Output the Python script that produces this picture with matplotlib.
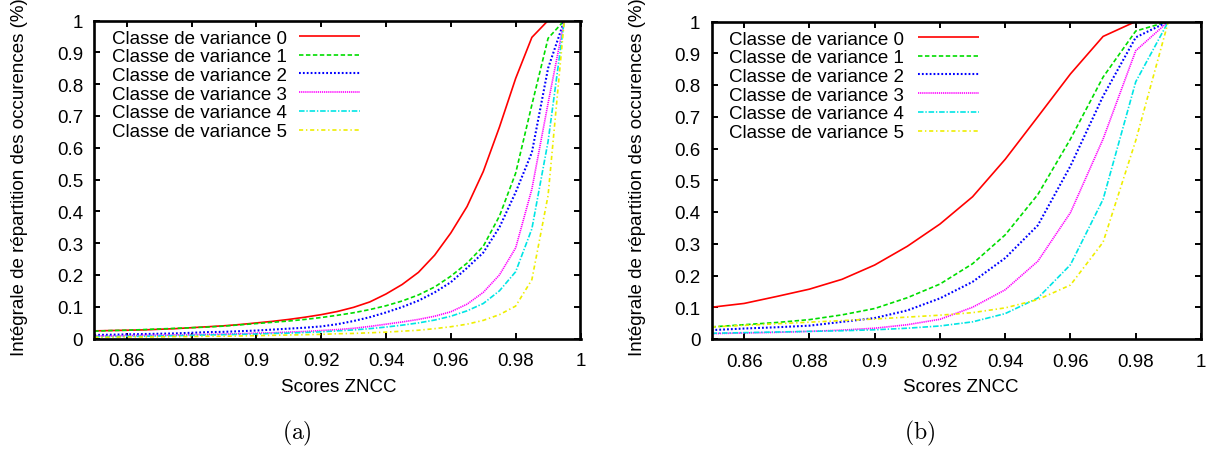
import matplotlib
matplotlib.use("Agg")
import matplotlib.pyplot as plt

plt.rcParams["font.family"] = ["Liberation Sans", "DejaVu Sans"]
plt.rcParams["lines.scale_dashes"] = False

# ---------------------------------------------------------------- data
class_labels = ["Classe de variance 0", "Classe de variance 1", "Classe de variance 2",
                "Classe de variance 3", "Classe de variance 4", "Classe de variance 5"]

x_label = "Scores ZNCC"
y_label = "Intégrale de répartition des occurences (%)"
panel_captions = ["(a)", "(b)"]

x_ticks = [0.86, 0.88, 0.90, 0.92, 0.94, 0.96, 0.98, 1.0]
x_tick_labels = ["0.86", "0.88", "0.9", "0.92", "0.94", "0.96", "0.98", "1"]
y_ticks = [0.0, 0.1, 0.2, 0.3, 0.4, 0.5, 0.6, 0.7, 0.8, 0.9, 1.0]
y_tick_labels = ["0", "0.1", "0.2", "0.3", "0.4", "0.5", "0.6", "0.7", "0.8", "0.9", "1"]

# panel (a): scores sampled every 0.005
zncc_a = [0.850, 0.855, 0.860, 0.865, 0.870, 0.875, 0.880, 0.885, 0.890, 0.895,
          0.900, 0.905, 0.910, 0.915, 0.920, 0.925, 0.930, 0.935, 0.940, 0.945,
          0.950, 0.955, 0.960, 0.965, 0.970, 0.975, 0.980, 0.985, 0.990, 0.995]
cdf_a_0 = [0.024, 0.025, 0.026, 0.027, 0.029, 0.031, 0.034, 0.037, 0.040, 0.044,
           0.049, 0.054, 0.060, 0.067, 0.075, 0.085, 0.098, 0.115, 0.140, 0.170,
           0.208, 0.262, 0.332, 0.415, 0.525, 0.665, 0.818, 0.947, 1.000, 1.000]
cdf_a_1 = [0.023, 0.025, 0.026, 0.028, 0.030, 0.032, 0.034, 0.036, 0.039, 0.043,
           0.047, 0.051, 0.055, 0.060, 0.066, 0.073, 0.081, 0.091, 0.103, 0.118,
           0.137, 0.162, 0.196, 0.237, 0.290, 0.385, 0.520, 0.735, 0.944, 1.000]
cdf_a_2 = [0.011, 0.012, 0.013, 0.014, 0.015, 0.016, 0.018, 0.020, 0.021, 0.023,
           0.025, 0.028, 0.031, 0.034, 0.038, 0.045, 0.055, 0.067, 0.082, 0.099,
           0.119, 0.145, 0.177, 0.222, 0.270, 0.350, 0.460, 0.585, 0.850, 1.000]
cdf_a_3 = [0.008, 0.008, 0.009, 0.010, 0.010, 0.011, 0.012, 0.013, 0.014, 0.015,
           0.017, 0.018, 0.020, 0.022, 0.025, 0.028, 0.032, 0.038, 0.045, 0.052,
           0.060, 0.070, 0.084, 0.108, 0.145, 0.200, 0.285, 0.470, 0.740, 1.000]
cdf_a_4 = [0.006, 0.006, 0.007, 0.007, 0.008, 0.009, 0.010, 0.011, 0.012, 0.013,
           0.014, 0.016, 0.017, 0.019, 0.021, 0.024, 0.027, 0.031, 0.036, 0.042,
           0.049, 0.058, 0.070, 0.087, 0.110, 0.150, 0.210, 0.345, 0.620, 1.000]
cdf_a_5 = [0.004, 0.004, 0.005, 0.005, 0.005, 0.006, 0.006, 0.007, 0.007, 0.008,
           0.009, 0.010, 0.011, 0.012, 0.013, 0.015, 0.016, 0.018, 0.020, 0.023,
           0.026, 0.031, 0.037, 0.045, 0.057, 0.075, 0.102, 0.185, 0.450, 1.000]

# panel (b): scores sampled every 0.01
zncc_b = [0.85, 0.86, 0.87, 0.88, 0.89, 0.90, 0.91, 0.92, 0.93, 0.94,
          0.95, 0.96, 0.97, 0.98, 0.99]
cdf_b_0 = [0.100, 0.112, 0.134, 0.157, 0.188, 0.233, 0.292, 0.362, 0.448, 0.566,
           0.700, 0.835, 0.953, 1.000, 1.000]
cdf_b_1 = [0.038, 0.045, 0.052, 0.061, 0.076, 0.096, 0.130, 0.173, 0.237, 0.328,
           0.455, 0.630, 0.825, 0.970, 1.000]
cdf_b_2 = [0.028, 0.033, 0.037, 0.042, 0.054, 0.066, 0.090, 0.128, 0.180, 0.255,
           0.358, 0.545, 0.765, 0.950, 1.000]
cdf_b_3 = [0.017, 0.019, 0.021, 0.024, 0.028, 0.034, 0.045, 0.062, 0.100, 0.155,
           0.245, 0.398, 0.630, 0.908, 1.000]
cdf_b_4 = [0.018, 0.020, 0.022, 0.024, 0.026, 0.029, 0.034, 0.041, 0.054, 0.080,
           0.129, 0.234, 0.440, 0.810, 1.000]
cdf_b_5 = [0.038, 0.043, 0.048, 0.053, 0.058, 0.063, 0.069, 0.075, 0.083, 0.098,
           0.124, 0.170, 0.305, 0.625, 1.000]

# ---------------------------------------------------------------- styles
line_colors = ["#ff0000", "#00dd00", "#0000ff", "#ff00ff", "#00e5e5", "#eeee00"]
line_dashes = [None, (3.2, 1.8), (1.3, 1.5), (0.9, 0.6), (4.0, 1.3, 1.0, 1.3), (3.0, 2.0, 1.0, 2.0)]
line_widths = [1.2, 1.2, 1.5, 1.2, 1.2, 1.2]
FS = 13.5

W, H = 1210, 452
fig = plt.figure(figsize=(W / 100, H / 100), dpi=100)


def px_box(x0, x1, ytop, ybot):
    return [x0 / W, 1 - ybot / H, (x1 - x0) / W, (ybot - ytop) / H]


def draw_panel(ax, x, curves):
    for i, y in enumerate(curves):
        ln, = ax.plot(x, y, color=line_colors[i], lw=line_widths[i], solid_capstyle="butt")
        if line_dashes[i] is not None:
            ln.set_dashes(line_dashes[i])

    ax.set_xlim(0.85, 1.0)
    ax.set_ylim(0.0, 1.0)
    ax.set_xticks(x_ticks)
    ax.set_xticklabels(x_tick_labels)
    ax.set_yticks(y_ticks)
    ax.set_yticklabels(y_tick_labels)
    ax.tick_params(direction="in", length=4.5, width=1.4, top=True, right=True,
                   labelsize=FS, colors="black")
    ax.tick_params(axis="x", pad=10)
    ax.tick_params(axis="y", pad=8)
    for sp in ax.spines.values():
        sp.set_linewidth(1.9)

    # key: label on the left, line sample on the right
    ax_h_px = ax.get_position().height * H
    for i, lab in enumerate(class_labels):
        yc = 0.951 - i * 18.7 / ax_h_px
        ax.text(0.036, yc - 6.6 / ax_h_px, lab, transform=ax.transAxes,
                ha="left", va="baseline", fontsize=FS, color="black")
        ln, = ax.plot([0.421, 0.546], [yc, yc], transform=ax.transAxes,
                      color=line_colors[i], lw=line_widths[i], clip_on=False,
                      solid_capstyle="butt")
        if line_dashes[i] is not None:
            ln.set_dashes(line_dashes[i])


ax_a = fig.add_axes(px_box(94.3, 580.5, 21.5, 339.5))
draw_panel(ax_a, zncc_a, [cdf_a_0, cdf_a_1, cdf_a_2, cdf_a_3, cdf_a_4, cdf_a_5])

ax_b = fig.add_axes(px_box(711.5, 1201.0, 22.5, 340.0))
draw_panel(ax_b, zncc_b, [cdf_b_0, cdf_b_1, cdf_b_2, cdf_b_3, cdf_b_4, cdf_b_5])

# axis titles
for xc in (339, 961):
    fig.text(xc / W, 1 - 388 / H, x_label, ha="center", va="center", fontsize=FS)
for xc in (20, 637):
    fig.text(xc / W, 1 - 177 / H, y_label, ha="center", va="center",
             rotation=90, fontsize=FS)

# panel captions
for xc, cap in zip((297, 920), panel_captions):
    fig.text(xc / W, 1 - 433 / H, "$\\mathrm{" + cap + "}$", ha="center", va="center",
             fontsize=17, math_fontfamily="cm")

fig.savefig("out.png", dpi=100)
